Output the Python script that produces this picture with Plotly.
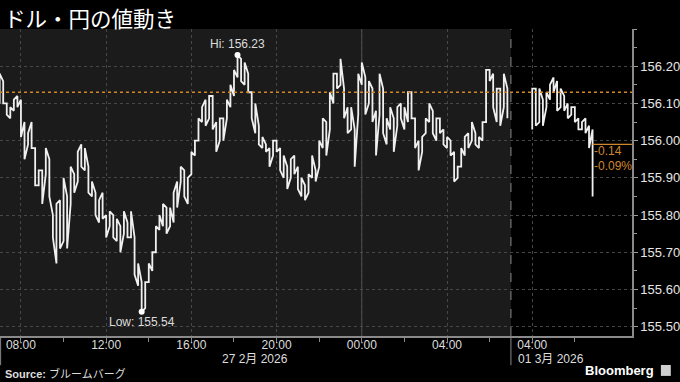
import pandas as pd
import plotly.graph_objects as go

# ---------------- data ----------------
title_text = "ドル・円の値動き"
source_text = "<b>Source:</b> ブルームバーグ"

seg1_start = "2026-02-27 07:00"   # 10-minute bars
seg1_high = [
    156.18, 156.16, 156.10, 156.09, 156.11, 156.12, 156.11, 156.05, 156.02, 156.05,
    155.98, 155.92, 155.92, 155.98, 155.95, 155.80, 155.83, 155.84, 155.90, 155.85,
    155.93, 155.91, 155.97, 155.99, 155.98, 155.93, 155.89, 155.86, 155.84, 155.86,
    155.80, 155.81, 155.80, 155.79, 155.77, 155.81, 155.78, 155.81, 155.74, 155.67,
    155.62, 155.62, 155.67, 155.70, 155.77, 155.80, 155.83, 155.82, 155.82, 155.86,
    155.89, 155.93, 155.92, 155.90, 155.97, 156.00, 156.06, 156.09, 156.11, 156.12,
    156.12, 156.05, 156.06, 156.06, 156.11, 156.15, 156.19, 156.23, 156.22, 156.21,
    156.18, 156.13, 156.10, 156.04, 156.01, 155.99, 155.98, 156.00, 156.00, 155.98,
    155.96, 155.93, 155.95, 155.96, 155.93, 155.90, 155.88, 155.91, 155.96, 155.92,
    156.00, 156.06, 156.05, 156.13, 156.18, 156.18, 156.22, 156.14, 156.09, 156.09,
    156.03, 156.18, 156.21, 156.17, 156.16, 156.14, 156.08, 156.18, 156.14, 156.06,
    156.09, 156.06, 156.09, 156.10, 156.09, 156.13, 156.13, 156.06, 156.00, 156.01,
    156.06, 156.10, 156.08, 156.06, 156.06, 156.03, 156.01, 156.00, 155.97, 155.93,
    155.98, 156.01, 156.02, 156.05, 156.02, 156.01, 156.05, 156.19, 156.19, 156.18,
    156.14, 156.14, 156.18, 156.14,
]
seg1_low = [
    156.10, 156.10, 156.07, 156.06, 156.08, 156.09, 156.01, 155.95, 155.99, 155.98,
    155.88, 155.88, 155.83, 155.91, 155.85, 155.74, 155.67, 155.71, 155.73, 155.71,
    155.83, 155.86, 155.89, 155.93, 155.92, 155.86, 155.85, 155.80, 155.78, 155.79,
    155.74, 155.77, 155.74, 155.73, 155.70, 155.75, 155.74, 155.74, 155.64, 155.61,
    155.54, 155.55, 155.62, 155.65, 155.70, 155.76, 155.77, 155.75, 155.77, 155.78,
    155.82, 155.89, 155.85, 155.83, 155.91, 155.96, 156.00, 156.05, 156.04, 156.06,
    156.03, 155.97, 156.00, 156.00, 156.06, 156.09, 156.12, 156.17, 156.16, 156.15,
    156.13, 156.06, 156.02, 155.99, 155.98, 155.97, 155.93, 155.96, 155.97, 155.92,
    155.90, 155.87, 155.90, 155.91, 155.87, 155.85, 155.84, 155.86, 155.90, 155.89,
    155.93, 155.98, 155.96, 156.03, 156.10, 156.14, 156.15, 156.06, 156.02, 156.03,
    155.93, 156.07, 156.15, 156.07, 156.10, 156.05, 155.96, 156.07, 156.02, 155.99,
    156.03, 155.97, 156.04, 156.06, 156.03, 156.05, 156.06, 155.98, 155.92, 155.97,
    156.02, 156.05, 156.02, 156.00, 156.02, 155.99, 155.98, 155.96, 155.89, 155.90,
    155.93, 155.96, 155.98, 156.00, 155.99, 155.98, 156.00, 156.05, 156.16, 156.09,
    156.05, 156.04, 156.09, 156.06,
]

seg2_start = "2026-03-01 04:00"   # 10-minute bars after the weekend gap
seg2_high = [156.14, 156.14, 156.14, 156.11, 156.13, 156.15, 156.17, 156.16, 156.14,
             156.12, 156.10, 156.09, 156.09, 156.06, 156.05, 156.06, 156.04, 156.03]
seg2_low = [156.03, 156.04, 156.05, 156.04, 156.09, 156.11, 156.13, 156.08, 156.09,
            156.08, 156.06, 156.07, 156.05, 156.03, 156.03, 156.02, 155.98, 155.85]

last_price = 155.99
prev_close = 156.13
change_text = "-0.14"
change_pct_text = "-0.09%"
hi_value = 156.23
lo_value = 155.54

gap_start = "2026-02-28 07:00"
gap_hours = 20
x_range = ["2026-02-27 07:01", "2026-03-01 08:41"]

major_ticks = ["2026-02-27 08:00", "2026-02-27 12:00", "2026-02-27 16:00", "2026-02-27 20:00",
               "2026-02-28 00:00", "2026-02-28 04:00", "2026-03-01 04:00"]
major_labels = ["08:00", "12:00", "16:00", "20:00", "00:00", "04:00", "04:00"]
minor_ticks = ["2026-02-27 10:00", "2026-02-27 14:00", "2026-02-27 18:00", "2026-02-27 22:00",
               "2026-02-28 02:00", "2026-02-28 06:00", "2026-03-01 06:00"]
y_ticks = [155.5, 155.6, 155.7, 155.8, 155.9, 156.0, 156.1, 156.2]
y_labels = ["155.50", "155.60", "155.70", "155.80", "155.90", "156.00", "156.10", "156.20"]
date_labels = ["27 2月 2026", "01 3月 2026"]

# ---------------- figure ----------------
FONT = "Liberation Sans, Arial, Noto Sans CJK JP, sans-serif"
ORANGE = "#d0862c"
WHITE = "#f0f0f0"

t1 = pd.date_range(seg1_start, periods=len(seg1_high), freq="10min")
t2 = pd.date_range(seg2_start, periods=len(seg2_high), freq="10min")


def zigzag(times, highs, lows, end=None):
    xs, ys = [], []
    prev = None
    for t, h, l in zip(times, highs, lows):
        if prev is None or abs(prev - l) <= abs(prev - h):
            a, b = l, h
        else:
            a, b = h, l
        xs += [t, t]
        ys += [a, b]
        prev = b
    if end is not None:
        xs.append(times[-1])
        ys.append(end)
    return xs, ys


fig = go.Figure()
x1, y1 = zigzag(t1, seg1_high, seg1_low)
x2, y2 = zigzag(t2, seg2_high, seg2_low, end=last_price)
for xs, ys in ((x1, y1), (x2, y2)):
    fig.add_trace(go.Scatter(x=xs, y=ys, mode="lines",
                             line=dict(color=WHITE, width=1.8), hoverinfo="skip",
                             showlegend=False))

hi_idx = seg1_high.index(hi_value)
lo_idx = seg1_low.index(lo_value)
fig.add_trace(go.Scatter(x=[t1[hi_idx], t1[lo_idx]], y=[hi_value, lo_value], mode="markers",
                         marker=dict(color="white", size=6), showlegend=False, hoverinfo="skip"))

ann = []
ann.append(dict(x=t1[hi_idx], y=hi_value, text=f"Hi: {hi_value:.2f}", showarrow=False,
                yanchor="bottom", yshift=2, font=dict(size=12, color="#dddddd", family=FONT)))
ann.append(dict(x=t1[lo_idx], y=lo_value, text=f"Low: {lo_value:.2f}", showarrow=False,
                yanchor="top", yshift=-1, font=dict(size=12, color="#dddddd", family=FONT)))
ann.append(dict(xref="paper", yref="y", x=0.937, y=155.971, text=change_text, showarrow=False,
                xanchor="left", font=dict(size=12, color=ORANGE, family=FONT)))
ann.append(dict(xref="paper", yref="y", x=0.937, y=155.933, text=change_pct_text, showarrow=False,
                xanchor="left", font=dict(size=12, color=ORANGE, family=FONT)))
ann.append(dict(xref="paper", yref="paper", x=0.403, y=-0.075, text=date_labels[0],
                showarrow=False, xanchor="center", yanchor="middle",
                font=dict(size=12, color="#dddddd", family=FONT)))
ann.append(dict(xref="paper", yref="paper", x=0.817, y=-0.075, text=date_labels[1],
                showarrow=False, xanchor="left", yanchor="middle",
                font=dict(size=12, color="#dddddd", family=FONT)))
ann.append(dict(xref="paper", yref="paper", x=0.003, y=1.093, text=title_text, showarrow=False,
                xanchor="left", yanchor="top",
                font=dict(size=21.5, color="white", family="Noto Sans CJK JP")))
ann.append(dict(xref="paper", yref="paper", x=0.004, y=-0.121, text=source_text, showarrow=False,
                xanchor="left", yanchor="middle",
                font=dict(size=11, color="#dddddd", family="Liberation Sans, Noto Sans CJK JP")))
ann.append(dict(xref="paper", yref="paper", x=1.038, y=-0.111, text="<b>Bloomberg</b>",
                showarrow=False, xanchor="right", yanchor="middle",
                font=dict(size=13, color="white", family=FONT)))

shapes = []
shapes.append(dict(type="rect", xref="x", yref="paper", x0=x_range[0], x1=gap_start, y0=0, y1=1,
                   fillcolor="#1b1b1b", line=dict(width=0), layer="below"))
shapes.append(dict(type="line", xref="x", yref="paper", x0="2026-02-28 00:00",
                   x1="2026-02-28 00:00", y0=0, y1=1, line=dict(color="#505050", width=1),
                   layer="below"))
shapes.append(dict(type="line", xref="x", yref="paper", x0=gap_start, x1=gap_start, y0=0, y1=1,
                   line=dict(color="#8a8a8a", width=1, dash="dash")))
shapes.append(dict(type="line", xref="x", yref="paper", x0=gap_start, x1=gap_start, y0=-0.095,
                   y1=0, line=dict(color="#8a8a8a", width=1)))
shapes.append(dict(type="line", xref="paper", yref="paper", x0=0.001, x1=0.001, y0=-0.095,
                   y1=0, line=dict(color="#8a8a8a", width=1)))
shapes.append(dict(type="line", xref="paper", yref="y", x0=0, x1=1, y0=prev_close,
                   y1=prev_close, line=dict(color=ORANGE, width=1.5, dash="dot")))
shapes.append(dict(type="line", xref="x", yref="y", x0=t2[-1], x1=x_range[1], y0=last_price,
                   y1=last_price, line=dict(color=ORANGE, width=1.2)))
shapes.append(dict(type="rect", xref="paper", yref="paper", x0=1.0457, x1=1.0614, y0=-0.130,
                   y1=-0.0945, fillcolor="#cfcfcf", line=dict(width=0)))

fig.update_layout(
    width=680, height=382,
    margin=dict(l=0, r=45, t=29, b=46),
    paper_bgcolor="black", plot_bgcolor="black",
    font=dict(family=FONT, color="#dddddd", size=12),
    annotations=ann, shapes=shapes,
    showlegend=False,
    xaxis=dict(
        type="date", range=x_range,
        rangebreaks=[dict(values=[gap_start], dvalue=gap_hours * 3600 * 1000)],
        tickmode="array", tickvals=major_ticks, ticktext=major_labels,
        ticks="outside", ticklen=4, tickcolor="#888888",
        tickfont=dict(size=12, color="#dddddd"), ticklabelstandoff=-7,
        showgrid=True, gridcolor="#474747", griddash="dot", gridwidth=1,
        minor=dict(tickvals=minor_ticks, ticks="outside", ticklen=4, tickcolor="#888888",
                   showgrid=False),
        showline=True, linecolor="#8a8a8a", linewidth=1.5,
        zeroline=False, fixedrange=True,
    ),
    yaxis=dict(
        side="right", range=[155.475, 156.30],
        tickmode="array", tickvals=y_ticks, ticktext=y_labels,
        ticks="outside", ticklen=4, tickcolor="#999999",
        tickfont=dict(size=13, color="#e6e6e6"),
        showgrid=True, gridcolor="#474747", griddash="dot", gridwidth=1,
        minor=dict(dtick=0.05, tick0=155.5, ticks="outside", ticklen=3, tickcolor="#999999",
                   showgrid=False),
        showline=True, linecolor="#8a8a8a", linewidth=1.5,
        zeroline=False, fixedrange=True,
    ),
)

fig.write_html("out.html")
